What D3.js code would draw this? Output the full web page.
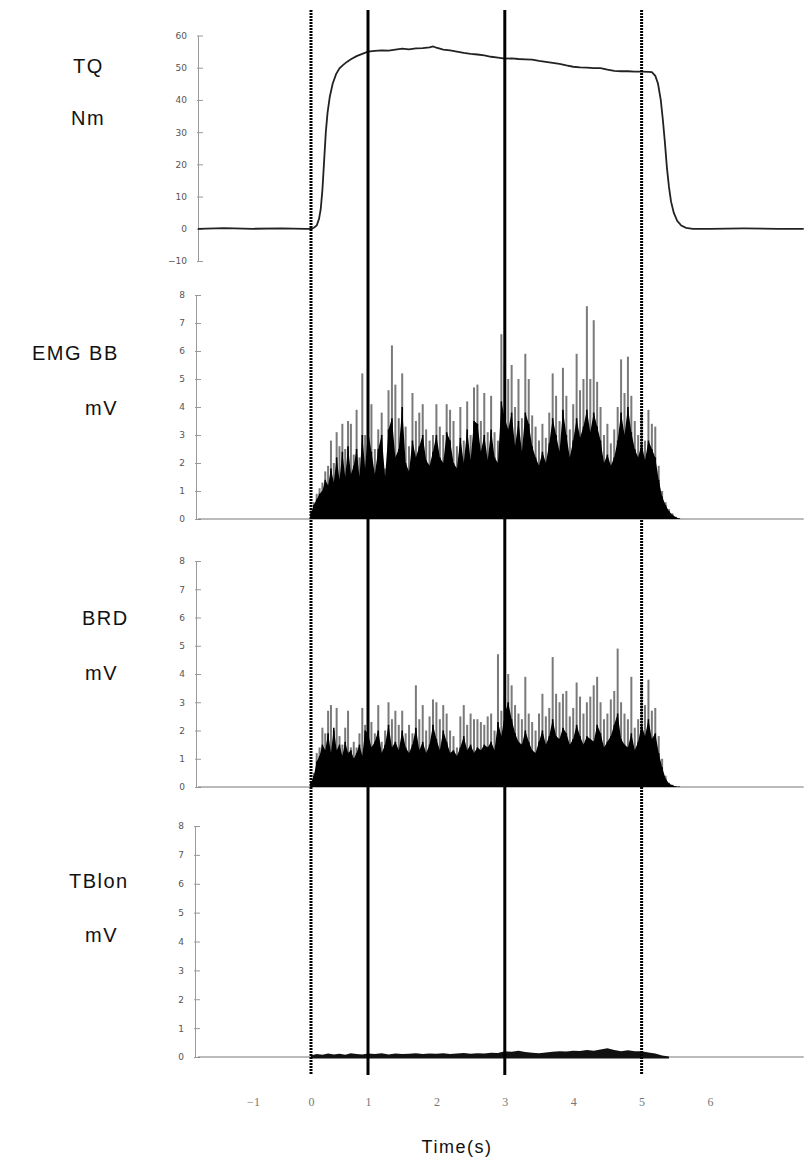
<!DOCTYPE html>
<html>
<head>
<meta charset="utf-8">
<script src="https://cdn.jsdelivr.net/npm/d3@7"></script>
<style>
  body { margin: 0; background: #fff; }
  .lbl { font-family: "Liberation Sans", Arial, sans-serif; font-size: 20px; letter-spacing: 1.5px; fill: #111; }
  .tick text { font-family: "DejaVu Sans", sans-serif; font-size: 9px; fill: #555; }
  .xt .tick text { font-family: "Liberation Serif", serif; font-size: 12px; fill: #777; }
</style>
</head>
<body>
<div id="chart"></div>
<script>
// ---- data ----
const xTicks = [-1, 0, 1, 2, 3, 4, 5, 6];
const tqTicks = [-10, 0, 10, 20, 30, 40, 50, 60];
const mvTicks = [0, 1, 2, 3, 4, 5, 6, 7, 8];

// event markers (s)
const markerTimes = [0, 1, 3, 5];
const markerKinds = ["dotted", "solid", "solid", "dotted"];

// torque (Nm)
const tqTime = [-1.95, -1.5, -1.0, -0.5, -0.1, 0, 0.05, 0.1, 0.14, 0.17, 0.2, 0.23, 0.26, 0.29, 0.33, 0.38, 0.44, 0.5, 0.56, 0.63, 0.7, 0.8, 0.9, 1.0, 1.1, 1.2, 1.3, 1.4, 1.5, 1.6, 1.7, 1.8, 1.9, 1.95, 2.0, 2.1, 2.2, 2.3, 2.4, 2.5, 2.6, 2.7, 2.8, 2.9, 3.0, 3.1, 3.2, 3.3, 3.4, 3.5, 3.6, 3.7, 3.8, 3.9, 4.0, 4.1, 4.2, 4.3, 4.4, 4.5, 4.6, 4.7, 4.8, 4.9, 5.0, 5.1, 5.15, 5.2, 5.24, 5.28, 5.31, 5.34, 5.37, 5.4, 5.43, 5.47, 5.52, 5.58, 5.65, 5.75, 6.0, 6.5, 7.0, 7.37];
const tqValue = [0, 0.2, 0, 0.1, 0, 0, 0.3, 1, 3, 6, 12, 21, 30, 36, 41, 45, 48, 49.8, 50.8, 51.8, 52.6, 53.6, 54.3, 55, 55.2, 55.4, 55.3, 55.6, 55.9, 55.7, 56, 56.1, 56.3, 56.6, 56.2, 55.6, 55.4, 55, 54.6, 54.3, 54.1, 53.8, 53.4, 53.1, 52.8, 52.9, 52.7, 52.6, 52.5, 52.1, 51.8, 51.5, 51.2, 50.7, 50.3, 50.1, 50, 49.9, 49.9, 49.4, 49, 48.9, 48.9, 48.8, 48.8, 48.7, 48.6, 47.5, 45, 40, 34, 27, 19, 13, 8.5, 5, 2.5, 1.0, 0.3, 0, 0, 0.1, 0, 0];

// EMG samples every 0.05 s from t = 0
const emgStep = 0.05;
// biceps brachii: spike tops and dense black part (mV)
const bbPeak = [0.3, 0.6, 0.9, 1.1, 1.3,
  1.7, 1.9, 2.8, 2.0, 3.1, 2.6, 3.4, 2.5, 3.5, 3.4, 2.3, 3.9, 2.2, 5.2, 3.0,
  4.1, 4.1, 2.5, 3.2, 3.8, 1.8, 4.6, 6.2, 4.8, 3.6, 5.2, 3.3, 2.6, 4.5, 3.5, 3.8, 4.1, 3.2, 2.8, 3.0,
  4.1, 3.3, 3.0, 4.1, 3.9, 3.5, 2.6, 4.0, 2.8, 4.2, 3.0, 4.7, 4.8, 3.5, 4.5, 3.1, 4.4, 3.1, 2.8, 6.6,
  5.5, 5.0, 5.5, 4.0, 5.0, 3.6, 5.9, 5.0, 3.7, 3.3, 2.8, 3.4, 2.9, 3.8, 5.2, 4.4, 3.5, 5.4, 4.4, 3.2,
  4.1, 5.9, 4.6, 5.0, 7.6, 5.0, 7.1, 4.9, 4.0, 3.0, 3.4, 2.7, 3.2, 4.0, 5.7, 4.5, 5.8, 4.4, 3.5, 3.0,
  3.8, 2.8, 3.9, 3.4, 3.3, 1.9, 1.0, 0.6, 0.35, 0.2, 0.08, 0.03];
const bbCore = [0.2, 0.5, 0.7, 0.9, 1.0,
  1.4, 1.2, 1.8, 1.3, 2.2, 1.4, 2.4, 1.5, 2.6, 1.6, 1.9, 2.5, 1.5, 3.0, 1.8,
  3.2, 2.4, 1.6, 2.5, 3.0, 1.5, 3.2, 3.6, 2.2, 2.5, 4.0, 2.0, 1.7, 2.8, 2.2, 2.6, 3.0, 2.1, 1.9, 2.4,
  3.0, 2.2, 2.0, 3.1, 2.8, 2.0, 1.8, 2.9, 2.0, 3.2, 2.1, 3.5, 3.4, 2.4, 3.0, 2.1, 3.2, 2.2, 2.0, 4.2,
  3.6, 3.2, 3.8, 2.6, 3.5, 2.4, 3.8, 3.4, 2.6, 2.2, 1.9, 2.4, 2.0, 2.7, 3.6, 3.0, 2.4, 3.9, 3.0, 2.2,
  2.8, 3.6, 2.9, 3.3, 3.9, 3.1, 3.8, 3.3, 2.8, 2.0, 2.3, 1.9, 2.2, 2.8, 3.8, 3.0, 4.0, 3.1, 2.5, 2.2,
  2.7, 2.1, 2.8, 2.5, 2.2, 1.4, 0.8, 0.5, 0.28, 0.15, 0.06, 0.02];
// brachioradialis
const brdPeak = [0.2, 0.5, 1.2, 1.4, 2.1,
  1.9, 2.7, 2.9, 2.0, 2.8, 1.8, 1.5, 2.1, 2.7, 1.4, 1.6, 1.4, 1.9, 2.8, 2.2,
  2.6, 2.3, 1.9, 2.9, 1.6, 2.0, 3.0, 2.4, 2.7, 2.2, 2.7, 1.9, 2.2, 1.9, 3.6, 2.4, 2.9, 2.0, 2.5, 3.1,
  3.0, 2.4, 2.9, 2.6, 2.0, 1.8, 1.4, 2.5, 2.9, 2.2, 2.6, 2.4, 2.4, 2.3, 2.2, 2.5, 2.6, 2.0, 4.7, 2.7,
  3.2, 4.0, 3.6, 2.9, 2.6, 2.4, 3.9, 2.6, 2.3, 2.0, 2.6, 3.3, 2.5, 2.8, 4.6, 3.3, 3.0, 3.3, 3.4, 2.5,
  2.8, 3.7, 3.2, 2.6, 3.0, 3.2, 3.6, 3.9, 3.0, 2.4, 2.6, 3.1, 3.4, 4.9, 3.0, 2.6, 2.4, 3.9, 2.1, 2.4,
  3.7, 2.9, 3.8, 2.7, 2.8, 1.8, 1.0, 0.4, 0.15, 0.08, 0.03, 0.02];
const brdCore = [0.15, 0.4, 0.9, 1.1, 1.5,
  1.3, 1.9, 1.2, 2.1, 1.3, 1.5, 1.1, 1.6, 1.2, 1.3, 1.0, 1.2, 1.5, 1.1, 2.0,
  1.9, 1.4, 1.6, 2.0, 1.2, 1.5, 2.2, 1.4, 1.6, 1.3, 2.0, 1.4, 1.2, 1.5, 2.1, 1.3, 1.6, 1.2, 1.5, 2.2,
  1.7, 1.3, 2.0, 1.6, 1.2, 1.3, 1.1, 1.4, 1.8, 1.3, 1.5, 1.2, 1.4, 1.3, 1.5, 1.4, 1.6, 1.3, 2.3, 1.8,
  2.6, 3.0, 2.4, 1.9, 1.6, 1.5, 2.0, 1.6, 1.3, 1.2, 1.6, 2.0, 1.5, 1.8, 2.4, 1.8, 1.7, 2.1, 1.9, 1.5,
  1.7, 2.2, 1.8, 1.5, 1.8, 1.7, 1.6, 2.2, 1.9, 1.4, 1.6, 1.8, 2.2, 2.6, 1.7, 1.5, 1.4, 1.9, 1.3, 1.6,
  2.2, 1.8, 2.4, 1.7, 1.9, 1.2, 0.7, 0.3, 0.12, 0.06, 0.02, 0.01];
// triceps long head, every 0.1 s
const tbStep = 0.1;
const tbValue = [0.05, 0.1, 0.08, 0.12, 0.09, 0.11, 0.08, 0.13, 0.1, 0.09,
  0.12, 0.1, 0.13, 0.09, 0.12, 0.1, 0.11, 0.13, 0.1, 0.12,
  0.11, 0.13, 0.1, 0.12, 0.14, 0.11, 0.13, 0.12, 0.15, 0.14,
  0.2, 0.18, 0.22, 0.17, 0.15, 0.13, 0.16, 0.18, 0.2, 0.19,
  0.22, 0.21, 0.24, 0.22, 0.26, 0.3, 0.24, 0.2, 0.23, 0.2,
  0.2, 0.16, 0.12, 0.05, 0.02];

// ---- layout ----
const W = 804, H = 1164;
const tMin = -1.95, tMax = 7.37;

const svg = d3.select("#chart").append("svg")
  .attr("width", W).attr("height", H)
  .style("font-family", "sans-serif");

// time axis spacing is uneven in the original, so piecewise scale
const x = d3.scaleLinear()
  .domain([-1, 0, 1, 6])
  .range([253, 311, 368, 710]);

const panels = [
  { name: "TQ", unit: "Nm", domain: [-10, 60], range: [261, 35.5], ticks: tqTicks, axisX: 198,
    nameXY: [73, 68], unitXY: [71, 120] },
  { name: "EMG BB", unit: "mV", domain: [0, 8], range: [519, 295], ticks: mvTicks, axisX: 196,
    nameXY: [32, 355], unitXY: [85, 410] },
  { name: "BRD", unit: "mV", domain: [0, 8], range: [787, 561], ticks: mvTicks, axisX: 196,
    nameXY: [82, 620], unitXY: [85, 675] },
  { name: "TBlon", unit: "mV", domain: [0, 8], range: [1057, 826], ticks: mvTicks, axisX: 195,
    nameXY: [69, 883], unitXY: [85, 937] }
];
panels.forEach(p => { p.y = d3.scaleLinear().domain(p.domain).range(p.range); });

// y axes and labels
panels.forEach(p => {
  const g = svg.append("g").attr("transform", `translate(${p.axisX},0)`)
    .call(d3.axisLeft(p.y).tickValues(p.ticks).tickSizeInner(-5).tickSizeOuter(0).tickPadding(11));
  g.select(".domain").attr("stroke", "#9a9a9a");
  g.selectAll(".tick line").attr("stroke", "#9a9a9a").attr("x1", -1);

  svg.append("text").attr("class", "lbl")
    .attr("x", p.nameXY[0]).attr("y", p.nameXY[1]).attr("dominant-baseline", "middle")
    .text(p.name);
  svg.append("text").attr("class", "lbl")
    .attr("x", p.unitXY[0]).attr("y", p.unitXY[1]).attr("dominant-baseline", "middle")
    .text(p.unit);
});

// torque trace
const tq = d3.zip(tqTime, tqValue);
svg.append("path")
  .datum(tq)
  .attr("fill", "none")
  .attr("stroke", "#222")
  .attr("stroke-width", 1.8)
  .attr("d", d3.line().x(d => x(d[0])).y(d => panels[0].y(d[1])));

// EMG panels
function drawEmg(p, peaks, core) {
  // flat baseline
  svg.append("line")
    .attr("x1", x(tMin)).attr("x2", x(tMax))
    .attr("y1", p.y(0)).attr("y2", p.y(0))
    .attr("stroke", "#777").attr("stroke-width", 1);

  const data = peaks.map((v, i) => ({ t: i * emgStep, peak: v, core: core[i] }));

  svg.append("g").selectAll("line")
    .data(data)
    .join("line")
      .attr("x1", d => x(d.t)).attr("x2", d => x(d.t))
      .attr("y1", p.y(0)).attr("y2", d => p.y(d.peak))
      .attr("stroke", "#7a7a7a")
      .attr("stroke-width", 2);

  // black spikes on top of the gray tips
  svg.append("g").selectAll("line")
    .data(data)
    .join("line")
      .attr("x1", d => x(d.t)).attr("x2", d => x(d.t))
      .attr("y1", p.y(0)).attr("y2", d => p.y(d.core))
      .attr("stroke", "#000")
      .attr("stroke-width", 1.6);

  svg.append("path")
    .datum(data)
    .attr("fill", "#000")
    .attr("d", d3.area().x(d => x(d.t)).y0(p.y(0)).y1(d => p.y(d.core)));
}
drawEmg(panels[1], bbPeak, bbCore);
drawEmg(panels[2], brdPeak, brdCore);

// triceps: nearly silent
const p4 = panels[3];
svg.append("line")
  .attr("x1", x(tMin)).attr("x2", x(tMax))
  .attr("y1", p4.y(0)).attr("y2", p4.y(0))
  .attr("stroke", "#777").attr("stroke-width", 1);
svg.append("path")
  .datum(tbValue.map((v, i) => ({ t: i * tbStep, v })))
  .attr("fill", "#111")
  .attr("d", d3.area().x(d => x(d.t)).y0(p4.y(0) + 1.5).y1(d => p4.y(d.v)));

// event markers across all panels
markerTimes.forEach((t, i) => {
  svg.append("line")
    .attr("x1", x(t)).attr("x2", x(t))
    .attr("y1", 10).attr("y2", 1075)
    .attr("stroke", "#000")
    .attr("stroke-width", 3)
    .attr("stroke-dasharray", markerKinds[i] === "solid" ? null : "2,1");
});

// time tick labels (no axis line in the original)
const xa = svg.append("g").attr("class", "xt")
  .attr("transform", "translate(0,1097)")
  .call(d3.axisBottom(x).tickValues(xTicks).tickFormat(d3.format("d")).tickSize(0).tickPadding(0));
xa.select(".domain").remove();

svg.append("text").attr("class", "lbl")
  .attr("x", 457).attr("y", 1148)
  .attr("text-anchor", "middle").attr("dominant-baseline", "middle")
  .style("font-size", "18px")
  .text("Time(s)");
</script>
</body>
</html>
